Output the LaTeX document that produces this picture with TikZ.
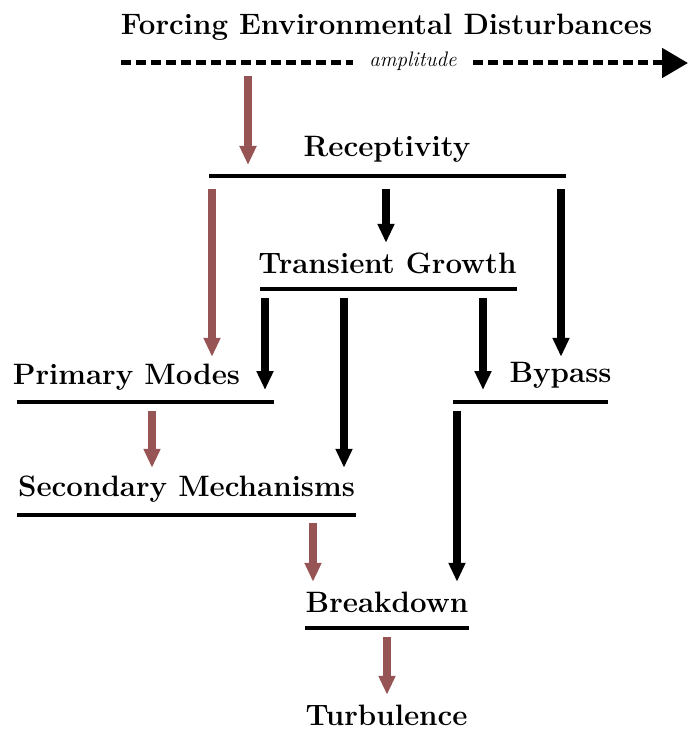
\documentclass[tikz,border=0pt]{standalone}
\usetikzlibrary{arrows.meta}
\definecolor{flowred}{RGB}{150,84,84}
\begin{document}
\begin{tikzpicture}[x=1pt, y=-1pt,
  stage/.style={font=\fontsize{29.5}{35}\selectfont\bfseries, inner sep=0pt, text height=20pt, text depth=6pt, anchor=base},
  bar/.style={fill=black, inner sep=0pt, minimum height=4pt},
  arr/.style={line width=7.5pt, -{Triangle[length=19pt,width=16pt]}},
  redarr/.style={arr, flowred},
  dashline/.style={line width=5pt, dash pattern=on 10pt off 5pt}]
  \useasboundingbox (0,0) rectangle (688,738);
  \node[stage] (force) at (386.5,35) {Forcing Environmental Disturbances};
  \coordinate (dl) at (121,63);
  \coordinate (dr) at (688,63);
  \node[font=\fontsize{21}{25}\selectfont\itshape, minimum width=120pt, inner sep=0pt, anchor=base] (amp) at (413,67) {amplitude};
  \draw[dashline] (dl) -- (dl -| amp.west);
  \draw[dashline, -{Triangle[length=26pt,width=29pt]}] (dl -| amp.east) -- (dr);
  \node[stage] (rec) at (387,157) {Receptivity};
  \node[bar, minimum width=357pt] (recbar) at (387.5,176) {};
  \node[stage] (tg) at (387.5,273) {Transient Growth};
  \node[bar, minimum width=257pt] (tgbar) at (388.5,289) {};
  \node[stage] (pm) at (126.5,384) {Primary Modes};
  \node[bar, minimum width=257pt] (pmbar) at (145.5,402) {};
  \node[stage] (bp) at (560.5,382) {Bypass};
  \node[bar, minimum width=155pt] (bpbar) at (530.5,402) {};
  \node[stage] (sec) at (186.5,496) {Secondary Mechanisms};
  \node[bar, minimum width=339pt] (secbar) at (186.5,515) {};
  \node[stage] (bd) at (387,612) {Breakdown};
  \node[bar, minimum width=164pt] (bdbar) at (387,628) {};
  \node[stage] (turb) at (386.5,725) {Turbulence};
  \draw[redarr, shorten <=13pt, shorten >=11pt] (dl -| 248,0) -- (recbar.center -| 248,0);
  \draw[redarr, shorten <=13pt, shorten >=7pt] (recbar.center -| 212,0) -- (pm.north -| 212,0);
  \draw[arr, shorten <=13pt, shorten >=10pt] (recbar.center -| 386,0) -- (tg.north -| 386,0);
  \draw[arr, shorten <=13pt, shorten >=5pt] (recbar.center -| 561,0) -- (bp.north -| 561,0);
  \draw[arr, shorten <=9pt, shorten >=12pt] (tgbar.center -| 265,0) -- (pmbar.center -| 265,0);
  \draw[arr, shorten <=9pt, shorten >=8pt] (tgbar.center -| 344,0) -- (sec.north -| 344,0);
  \draw[arr, shorten <=9pt, shorten >=12pt] (tgbar.center -| 483,0) -- (bpbar.center -| 483,0);
  \draw[redarr, shorten <=9pt, shorten >=8pt] (pmbar.center -| 152,0) -- (sec.north -| 152,0);
  \draw[arr, shorten <=9pt, shorten >=10pt] (bpbar.center -| 457,0) -- (bd.north -| 457,0);
  \draw[redarr, shorten <=8pt, shorten >=10pt] (secbar.center -| 313,0) -- (bd.north -| 313,0);
  \draw[redarr, shorten <=9pt, shorten >=10pt] (bdbar.center -| 387,0) -- (turb.north -| 387,0);
\end{tikzpicture}
\end{document}
